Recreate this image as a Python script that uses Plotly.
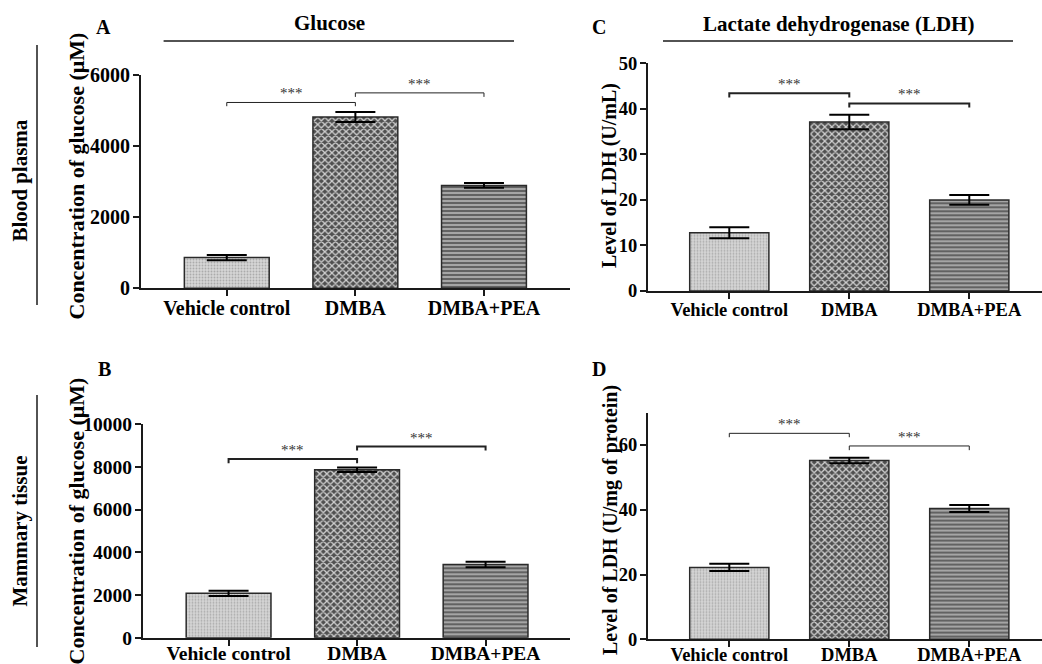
import plotly.graph_objects as go

# ---------------- data ----------------
categories = ["Vehicle control", "DMBA", "DMBA+PEA"]
x_pos = [0, 1, 2]

glucose_plasma = [865, 4820, 2895]
glucose_plasma_err = [75, 140, 70]
glucose_tissue = [2080, 7870, 3430]
glucose_tissue_err = [122, 100, 130]
ldh_plasma = [12.8, 37.1, 20.0]
ldh_plasma_err = [1.2, 1.6, 1.07]
ldh_tissue = [22.2, 55.2, 40.4]
ldh_tissue_err = [1.13, 0.86, 1.08]

# significance brackets: (x_start, x_end, level, tip)
brackets_A = [(0, 1, 5227, 5122), (1, 2, 5497, 5384)]
brackets_B = [(0, 1, 8378, 8175), (1, 2, 8955, 8767)]
brackets_C = [(0, 1, 43.4, 42.5), (1, 2, 41.2, 40.3)]
brackets_D = [(0, 1, 63.6, 62.4), (1, 2, 59.7, 58.4)]
sig_label = "***"

y_tick_A = [0, 2000, 4000, 6000]
y_tick_B = [0, 2000, 4000, 6000, 8000, 10000]
y_tick_C = [0, 10, 20, 30, 40, 50]
y_tick_D = [0, 20, 40, 60]

# ---------------- layout helpers ----------------
W, H = 1042, 664
FONT = "Liberation Serif"


def fx(px):
    return px / W


def fy(py):
    return 1 - py / H


pattern = dict(
    shape=[".", "x", "-"],
    bgcolor=["#d6d6d6", "#505050", "#626262"],
    fgcolor=["#ababab", "#d0d0d0", "#d2d2d2"],
    size=[3, 5, 4],
    solidity=[0.3, 0.45, 0.3],
    fillmode="replace",
)

panels = [
    dict(n="", vals=glucose_plasma, errs=glucose_plasma_err, br=brackets_A,
         xd=(141, 570), yd=(75, 288.3), xr=(-0.667, 2.669), yr=(0, 6000),
         yt=y_tick_A, fs=20, bw=1.0, so=-5),
    dict(n="2", vals=glucose_tissue, errs=glucose_tissue_err, br=brackets_B,
         xd=(143, 570), yd=(424.3, 637.7), xr=(-0.666, 2.657), yr=(0, 10000),
         yt=y_tick_B, fs=19.5, bw=2.0, so=-9),
    dict(n="3", vals=ldh_plasma, errs=ldh_plasma_err, br=brackets_C,
         xd=(648, 1042), yd=(63.3, 291), xr=(-0.6775, 2.606), yr=(0, 50),
         yt=y_tick_C, fs=18.5, bw=2.0, so=-5),
    dict(n="4", vals=ldh_tissue, errs=ldh_tissue_err, br=brackets_D,
         xd=(648, 1042), yd=(412.6, 639.3), xr=(-0.6775, 2.606), yr=(0, 70),
         yt=y_tick_D, fs=18.5, bw=1.0, so=-9),
]

fig = go.Figure()
layout = dict(
    template="none",
    width=W, height=H,
    margin=dict(l=0, r=0, t=0, b=0, pad=0),
    paper_bgcolor="white", plot_bgcolor="white",
    showlegend=False,
    font=dict(family=FONT, color="black"),
    annotations=[], shapes=[],
)

for p in panels:
    xa = "x" + p["n"]
    ya = "y" + p["n"]
    fig.add_trace(go.Bar(
        x=x_pos, y=p["vals"], width=0.66,
        xaxis=xa, yaxis=ya,
        marker=dict(pattern=pattern, line=dict(color="#2a2a2a", width=1.5)),
        error_y=dict(type="data", array=p["errs"], visible=True,
                     color="black", thickness=2, width=20),
        hoverinfo="skip",
    ))
    for (x0, x1, lev, tip) in p["br"]:
        fig.add_trace(go.Scatter(
            x=[x0, x0, x1, x1], y=[tip, lev, lev, tip], mode="lines",
            line=dict(color="#222", width=p["bw"]),
            xaxis=xa, yaxis=ya, hoverinfo="skip",
        ))
        layout["annotations"].append(dict(
            x=(x0 + x1) / 2, y=lev, xref=xa, yref=ya, text=sig_label,
            showarrow=False, yanchor="bottom", yshift=-1,
            font=dict(family=FONT, size=15, color="#333"),
        ))
    axis_common = dict(
        showline=True, linecolor="#1a1a1a", linewidth=2,
        ticks="outside", ticklen=6, tickwidth=2, tickcolor="#1a1a1a",
        showgrid=False, zeroline=False, automargin=False,
        tickfont=dict(family=FONT, size=p["fs"], color="black", weight="bold"),
    )
    xkey = "xaxis" + p["n"]
    ykey = "yaxis" + p["n"]
    layout[xkey] = dict(
        axis_common, domain=[fx(p["xd"][0]), fx(p["xd"][1])], range=list(p["xr"]),
        tickvals=x_pos, ticktext=categories, anchor=ya, ticklabelstandoff=p["so"],
    )
    layout[ykey] = dict(
        axis_common, domain=[fy(p["yd"][1]), fy(p["yd"][0])], range=list(p["yr"]),
        tickvals=p["yt"], tickformat="d", anchor=xa, ticklabelstandoff=-1,
    )

# axis titles (rotated)
ytitles = [
    ("Concentration of glucose (μM)", 76, 176.5, 22),
    ("Concentration of glucose (μM)", 76, 521.5, 22),
    ("Level of LDH (U/mL)", 610, 176, 20),
    ("Level of LDH (U/mg of protein)", 610, 520, 20),
]
for t, px, py, s in ytitles:
    layout["annotations"].append(dict(
        text=t, x=fx(px), y=fy(py), xref="paper", yref="paper",
        textangle=-90, showarrow=False, xanchor="center", yanchor="middle",
        font=dict(family=FONT, size=s, color="black", weight="bold"),
    ))

# row labels
for t, py in [("Blood plasma", 181), ("Mammary tissue", 531)]:
    layout["annotations"].append(dict(
        text=t, x=fx(19.6), y=fy(py), xref="paper", yref="paper",
        textangle=-90, showarrow=False, xanchor="center", yanchor="middle",
        font=dict(family=FONT, size=21, color="black", weight="bold"),
    ))

# panel letters
for t, px, py in [("A", 103, 27.5), ("C", 599, 27.5), ("B", 104, 369), ("D", 599, 369)]:
    layout["annotations"].append(dict(
        text=t, x=fx(px), y=fy(py), xref="paper", yref="paper",
        showarrow=False, xanchor="center", yanchor="middle",
        font=dict(family=FONT, size=20, color="black", weight="bold"),
    ))

# column headers
for t, px, py in [("Glucose", 329.6, 23), ("Lactate dehydrogenase (LDH)", 838.5, 24)]:
    layout["annotations"].append(dict(
        text=t, x=fx(px), y=fy(py), xref="paper", yref="paper",
        showarrow=False, xanchor="center", yanchor="middle",
        font=dict(family=FONT, size=21, color="black", weight="bold"),
    ))

# header rules and row rules
line_style = dict(color="#1a1a1a", width=1.5)
for x0, x1 in [(163.6, 514), (663, 1013)]:
    layout["shapes"].append(dict(type="line", xref="paper", yref="paper",
                                 x0=fx(x0), x1=fx(x1), y0=fy(41), y1=fy(41),
                                 line=line_style))
for y0, y1 in [(45, 305), (395, 647)]:
    layout["shapes"].append(dict(type="line", xref="paper", yref="paper",
                                 x0=fx(37), x1=fx(37), y0=fy(y0), y1=fy(y1),
                                 line=line_style))

fig.update_layout(**layout)
fig.write_html(
    "out.html",
    config={"displayModeBar": False},
    post_script="document.body.style.margin='0';document.body.style.overflow='hidden';",
)
